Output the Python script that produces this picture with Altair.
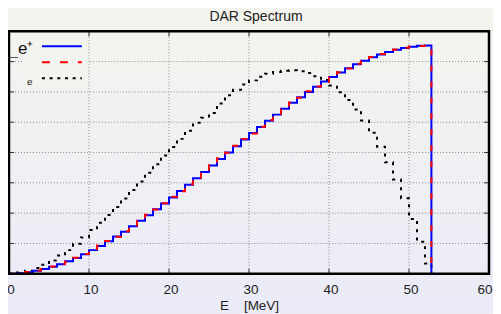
import altair as alt
import pandas as pd

# ---- data ----
bin_lo = list(range(0, 53)) + [52.8]

e_plus = [0.00, 0.02, 0.05, 0.10, 0.16, 0.23, 0.31, 0.41, 0.52, 0.64,
          0.78, 0.92, 1.07, 1.23, 1.39, 1.57, 1.75, 1.93, 2.13, 2.32,
          2.52, 2.73, 2.94, 3.15, 3.36, 3.57, 3.79, 4.00, 4.21, 4.43,
          4.64, 4.84, 5.05, 5.25, 5.44, 5.64, 5.82, 6.00, 6.17, 6.34,
          6.49, 6.64, 6.78, 6.91, 7.03, 7.14, 7.23, 7.32, 7.39, 7.45,
          7.49, 7.52, 7.53, 0.0]

e_minus = [0.00, 0.02, 0.06, 0.11, 0.16, 0.24, 0.32, 0.40, 0.53, 0.65,
           0.77, 0.93, 1.08, 1.22, 1.40, 1.58, 1.74, 1.95, 2.12, 2.33,
           2.54, 2.72, 2.95, 3.17, 3.35, 3.58, 3.81, 3.99, 4.22, 4.45,
           4.63, 4.85, 5.07, 5.24, 5.46, 5.65, 5.81, 6.02, 6.18, 6.33,
           6.51, 6.65, 6.77, 6.93, 7.02, 7.15, 7.25, 7.31, 7.40, 7.46,
           7.50, 7.51, 7.53, 0.0]

e_dot = [0.00, 0.04, 0.10, 0.19, 0.30, 0.44, 0.60, 0.78, 0.99, 1.20,
         1.44, 1.68, 1.94, 2.20, 2.48, 2.76, 3.04, 3.33, 3.61, 3.90,
         4.18, 4.45, 4.72, 4.98, 5.15, 5.30, 5.62, 5.89, 6.07, 6.24,
         6.38, 6.50, 6.60, 6.66, 6.70, 6.71, 6.68, 6.62, 6.52, 6.39,
         6.21, 5.99, 5.73, 5.42, 5.06, 4.65, 4.19, 3.68, 3.11, 2.49,
         1.81, 1.06, 0.34, 0.0]

x_ticks = [0, 10, 20, 30, 40, 50, 60]
x_grid = [10, 20, 30, 40, 50]
y_grid = [1, 2, 3, 4, 5, 6, 7]
legend_labels = ["e\u207a", "\u2014", "e"]
chart_title = "DAR Spectrum"

W, H = 481, 243
FONT = "Liberation Sans"
PR = 4

xs = alt.Scale(domain=[0, 60], nice=False, zero=False)
ys = alt.Scale(domain=[0, 8], nice=False, zero=False)
x_axis = alt.Axis(values=x_ticks, title="E\u00a0\u00a0\u00a0\u00a0[MeV]",
                  grid=False, ticks=False, domain=False, zindex=2,
                  labelFlush=False, labelFontSize=13.5, labelFont=FONT,
                  labelColor="#222", labelPadding=9,
                  labelAlign={"condition": {"test": "datum.value == 60", "value": "right"},
                              "value": "center"},
                  labelOffset={"condition": {"test": "datum.value == 60", "value": 3},
                               "value": 1.5},
                  titleFont=FONT, titleFontSize=13.5, titleFontWeight="normal",
                  titleColor="#222", titlePadding=2)

one = pd.DataFrame({"a": [0]})


def xq(field):
    return alt.X(field, scale=xs, axis=x_axis)


def yq(field):
    return alt.Y(field, scale=ys, axis=None)


bg = alt.Chart(one).mark_rect(
    clip=False,
    fill={"gradient": "linear", "x1": 0, "y1": 0, "x2": 0, "y2": 1,
          "stops": [{"offset": 0, "color": "#f4f4ee"},
                    {"offset": 1, "color": "#ebebf8"}]},
).encode(x=alt.value(-1), x2=alt.value(W + PR), y=alt.value(-23), y2=alt.value(H + 40))

title = alt.Chart(one).mark_text(
    text=chart_title, font=FONT, fontSize=14, align="center", baseline="alphabetic",
    color="#222").encode(x=alt.value(W / 2 + 7), y=alt.value(-10.5))

gx = alt.Chart(pd.DataFrame({"g": x_grid})).mark_rule(
    color="#8a8a8a", strokeWidth=1, strokeDash=[1, 2]
).encode(x=xq("g:Q"), y=alt.value(0), y2=alt.value(H))

gy = alt.Chart(pd.DataFrame({"g": y_grid})).mark_rule(
    color="#8a8a8a", strokeWidth=1, strokeDash=[1, 2]
).encode(y=yq("g:Q"), x=alt.value(0), x2=alt.value(W))

cover = alt.Chart(one).mark_rect(fill="#f3f3ef").encode(
    x=alt.value(15), x2=alt.value(79), y=alt.value(2), y2=alt.value(57))

tb = alt.Chart(pd.DataFrame({"g": x_grid})).mark_rule(color="#333", strokeWidth=1).encode(
    x=xq("g:Q"), y=alt.value(H), y2=alt.value(H - 5))
tt = alt.Chart(pd.DataFrame({"g": x_grid})).mark_rule(color="#333", strokeWidth=1).encode(
    x=xq("g:Q"), y=alt.value(0), y2=alt.value(5))
tl = alt.Chart(pd.DataFrame({"g": y_grid})).mark_rule(color="#333", strokeWidth=1).encode(
    y=yq("g:Q"), x=alt.value(0), x2=alt.value(5))
tr = alt.Chart(pd.DataFrame({"g": y_grid})).mark_rule(color="#333", strokeWidth=1).encode(
    y=yq("g:Q"), x=alt.value(W - 5), x2=alt.value(W))


def series(vals, **mk):
    df = pd.DataFrame({"E": bin_lo, "v": vals})
    return alt.Chart(df).mark_line(interpolate="step-after", **mk).encode(
        x=xq("E:Q"),
        y=yq("v:Q"),
        order=alt.Order("E:Q"),
    )


dot = series(e_dot, color="black", strokeWidth=2, strokeDash=[3, 5.3])
blue = series(e_plus, color="#0000ff", strokeWidth=2)
red = series(e_minus, color="#ff0000", strokeWidth=2, strokeDash=[6, 10])

frame = alt.Chart(one).mark_rect(filled=False, stroke="black", strokeWidth=2.5).encode(
    x=alt.value(0), x2=alt.value(W), y=alt.value(0), y2=alt.value(H))

lb = alt.Chart(one).mark_rule(color="#0000ff", strokeWidth=2).encode(
    x=alt.value(33), x2=alt.value(73), y=alt.value(15))
lr = alt.Chart(one).mark_rule(color="#ff0000", strokeWidth=2, strokeDash=[8, 10]).encode(
    x=alt.value(33), x2=alt.value(73), y=alt.value(31))
lk = alt.Chart(one).mark_rule(color="black", strokeWidth=2, strokeDash=[3, 4.7]).encode(
    x=alt.value(33), x2=alt.value(73), y=alt.value(47))

t1 = alt.Chart(one).mark_text(text=legend_labels[0], font=FONT, fontSize=17, align="left",
                              baseline="alphabetic", color="#111").encode(
    x=alt.value(9), y=alt.value(23))
t2 = alt.Chart(one).mark_text(text=legend_labels[1], font=FONT, fontSize=11, align="left",
                              baseline="middle", color="#333").encode(
    x=alt.value(-2), y=alt.value(26))
t3 = alt.Chart(one).mark_text(text=legend_labels[2], font=FONT, fontSize=10, align="left",
                              baseline="alphabetic", color="#222").encode(
    x=alt.value(18), y=alt.value(54))

chart = alt.layer(
    bg, title, gx, gy, cover, tb, tt, tl, tr, dot, blue, red, frame, lb, lr, lk, t1, t2, t3
).properties(
    width=W, height=H,
    padding={"left": 1, "top": 23, "right": PR, "bottom": 40},
    autosize=alt.AutoSizeParams(type="none"),
    background="#efeff4",
).configure_view(stroke=None)

chart.save("out.html", embed_options={"renderer": "svg", "actions": False})
